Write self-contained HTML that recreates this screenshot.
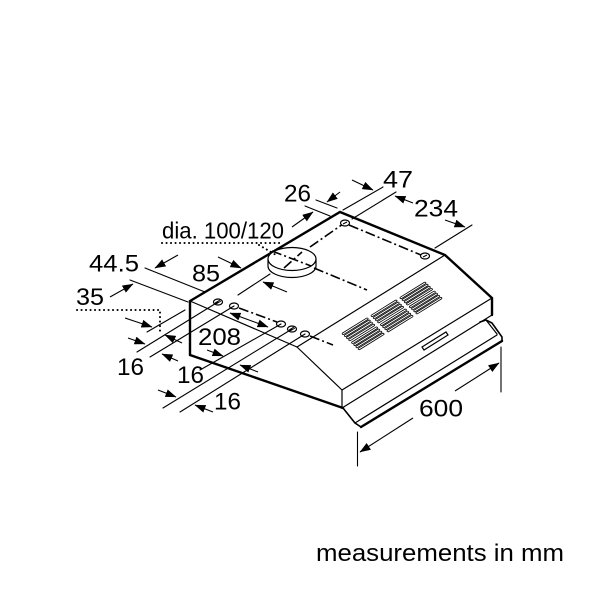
<!DOCTYPE html>
<html><head><meta charset="utf-8"><style>
html,body{margin:0;padding:0;background:#fff;}
svg{display:block;}
text{font-family:"Liberation Sans",Arial,sans-serif;fill:#000;}
</style></head><body>
<svg width="600" height="600" viewBox="0 0 600 600" xmlns="http://www.w3.org/2000/svg">
<defs>
<marker id="ah" markerWidth="11" markerHeight="8" refX="10.5" refY="4" orient="auto" markerUnits="userSpaceOnUse">
<path d="M0,0 L11,4 L0,8 z" fill="#000"/>
</marker>
</defs>
<rect width="600" height="600" fill="#fff"/>

<!-- hood thick silhouette -->
<g fill="none" stroke="#000" stroke-width="2.4" stroke-linejoin="miter" stroke-linecap="round">
<path d="M190,355 L190,301 L340,212 L445,255 L492,298 L492,315"/>
<path d="M190,355 L343,408"/>
<path d="M361,427 L502,341"/>
</g>

<!-- hood thin edges -->
<g fill="none" stroke="#000" stroke-width="1.2" stroke-linecap="round">
<path d="M190,301 L297,347"/>
<path d="M297,347 L445,255"/>
<path d="M297,347 L342,390"/>
<path d="M342,390 L492,298"/>
<path d="M342,408 L492,315"/>
<path d="M342,390 L342,408"/>
<path d="M343,408 L355,423 L361,427" stroke-width="1.6"/>
<path d="M502,341 L502,337 L492,323 L486,320 L480,322" stroke-width="1.6"/>
<path d="M355,423 L497,335"/>
<path d="M486,320 L497,334"/>
<polygon points="422,347 446,332 448,335 424,350"/>
</g>

<!-- vents on slope panel -->
<g transform="matrix(0.85,-0.527,0.723,0.691,297,347)" fill="none" stroke="#000" stroke-width="0.8">
<rect x="42" y="12.5" width="30" height="1.9" rx="0.95" vector-effect="non-scaling-stroke"/>
<rect x="42" y="15.5" width="30" height="1.9" rx="0.95" vector-effect="non-scaling-stroke"/>
<rect x="42" y="18.5" width="30" height="1.9" rx="0.95" vector-effect="non-scaling-stroke"/>
<rect x="42" y="21.5" width="30" height="1.9" rx="0.95" vector-effect="non-scaling-stroke"/>
<rect x="76" y="12.5" width="30" height="1.9" rx="0.95" vector-effect="non-scaling-stroke"/>
<rect x="76" y="15.5" width="30" height="1.9" rx="0.95" vector-effect="non-scaling-stroke"/>
<rect x="76" y="18.5" width="30" height="1.9" rx="0.95" vector-effect="non-scaling-stroke"/>
<rect x="76" y="21.5" width="30" height="1.9" rx="0.95" vector-effect="non-scaling-stroke"/>
<rect x="110" y="12.5" width="30" height="1.9" rx="0.95" vector-effect="non-scaling-stroke"/>
<rect x="110" y="15.5" width="30" height="1.9" rx="0.95" vector-effect="non-scaling-stroke"/>
<rect x="110" y="18.5" width="30" height="1.9" rx="0.95" vector-effect="non-scaling-stroke"/>
<rect x="110" y="21.5" width="30" height="1.9" rx="0.95" vector-effect="non-scaling-stroke"/>
<rect x="42" y="25.5" width="30" height="1.9" rx="0.95" vector-effect="non-scaling-stroke"/>
<rect x="42" y="28.5" width="30" height="1.9" rx="0.95" vector-effect="non-scaling-stroke"/>
<rect x="42" y="31.5" width="30" height="1.9" rx="0.95" vector-effect="non-scaling-stroke"/>
<rect x="42" y="34.5" width="30" height="1.9" rx="0.95" vector-effect="non-scaling-stroke"/>
<rect x="76" y="25.5" width="30" height="1.9" rx="0.95" vector-effect="non-scaling-stroke"/>
<rect x="76" y="28.5" width="30" height="1.9" rx="0.95" vector-effect="non-scaling-stroke"/>
<rect x="76" y="31.5" width="30" height="1.9" rx="0.95" vector-effect="non-scaling-stroke"/>
<rect x="76" y="34.5" width="30" height="1.9" rx="0.95" vector-effect="non-scaling-stroke"/>
<rect x="110" y="25.5" width="30" height="1.9" rx="0.95" vector-effect="non-scaling-stroke"/>
<rect x="110" y="28.5" width="30" height="1.9" rx="0.95" vector-effect="non-scaling-stroke"/>
<rect x="110" y="31.5" width="30" height="1.9" rx="0.95" vector-effect="non-scaling-stroke"/>
<rect x="110" y="34.5" width="30" height="1.9" rx="0.95" vector-effect="non-scaling-stroke"/>
</g>

<!-- duct -->
<g fill="#fff" stroke="#000" stroke-width="1.2">
<path d="M268,259 L268,266 A24,11.5 0 0 0 316,266 L316,259" />
<ellipse cx="292" cy="259" rx="24" ry="11.5"/>
</g>

<!-- dash-dot centerlines -->
<g fill="none" stroke="#000" stroke-width="1.6" stroke-dasharray="10 3 2 3">
<path d="M310,247 L343,224"/>
<path d="M349,225 L421,255"/>
<path d="M314,268 L367,290"/>
<path d="M272,251 L311,266"/>
<path d="M284,268 L302,252"/>
<path d="M239,308 L277,322"/>
<path d="M310,336 L333,345"/>
</g>

<!-- holes -->
<g fill="#fff" stroke="#000" stroke-width="1.2">
<ellipse cx="345" cy="223" rx="4.5" ry="3"/>
<ellipse cx="425" cy="256" rx="4.5" ry="3"/>
<ellipse cx="218" cy="302" rx="4.5" ry="3"/>
<ellipse cx="234" cy="306" rx="4.5" ry="3"/>
<ellipse cx="281" cy="324" rx="4.5" ry="3"/>
<ellipse cx="292" cy="329" rx="4.5" ry="3"/>
<ellipse cx="305" cy="334" rx="4.5" ry="3"/>
</g>
<g stroke="#000" stroke-width="1">
<path d="M215,303 L220,300 M216,304 L221,301"/>
<path d="M289,330 L294,327 M290,331 L295,328"/>
<path d="M343,224 L347,222"/>
<path d="M423,257 L427,255"/>
</g>

<!-- extension / dimension thin lines -->
<g fill="none" stroke="#000" stroke-width="1.1" stroke-linecap="round">
<path d="M316,200 L337,208"/>
<path d="M305,206 L330,216"/>
<path d="M343,210 L383,187"/>
<path d="M352,219 L396,192"/>
<path d="M435,248 L472,225"/>
<path d="M145,268 L205,292"/>
<path d="M130,280 L188,302"/>
<path d="M238,295 L270,274"/>
<path d="M218,302 L137,352"/>
<path d="M234,306 L150,357"/>
<path d="M147,332 L185,310"/>
<path d="M281,324 L200,370"/>
<path d="M292,329 L163,408"/>
<path d="M305,334 L180,412"/>
<path d="M357.5,432 L357.5,466"/>
<path d="M501,347 L501,392"/>
</g>

<!-- dotted leaders -->
<g fill="none" stroke="#000" stroke-width="2" stroke-linecap="round" stroke-dasharray="0.1 4.4">
<path d="M162,243 L282,243"/>
<path d="M259,245 L276,255"/>
<path d="M77,310 L160,310 L160,334"/>
</g>

<!-- arrows -->
<g fill="none" stroke="#000" stroke-width="1.1" marker-end="url(#ah)">
<path d="M340,192 L327,202"/>
<path d="M292,227 L313,212"/>
<path d="M352,180 L373,190"/>
<path d="M413,203 L395,196"/>
<path d="M445,220 L465,227"/>
<path d="M178,255 L155,268"/>
<path d="M110,297 L133,284"/>
<path d="M218,257 L241,268"/>
<path d="M287,292 L263,282"/>
<path d="M125,318 L152,327"/>
<path d="M128,338 L145,344"/>
<path d="M182,343 L165,335"/>
<path d="M178,361 L162,354"/>
<path d="M249,320 L230,313"/>
<path d="M249,320 L268,327"/>
<path d="M207,350 L223,356"/>
<path d="M258,372 L240,365"/>
<path d="M158,390 L176,397"/>
<path d="M213,412 L195,405"/>
<path d="M413,418 L360,452"/>
<path d="M455,391 L499,363"/>
</g>

<!-- labels -->
<g font-size="24">
<text x="162" y="238.5" font-size="23" textLength="122" lengthAdjust="spacingAndGlyphs">dia. 100/120</text>
<text x="284" y="201.5" textLength="27" lengthAdjust="spacingAndGlyphs">26</text>
<text x="383" y="187.5" textLength="30" lengthAdjust="spacingAndGlyphs">47</text>
<text x="414" y="216.5" textLength="44" lengthAdjust="spacingAndGlyphs">234</text>
<text x="89" y="271.5" textLength="50" lengthAdjust="spacingAndGlyphs">44.5</text>
<text x="192" y="281.5" textLength="28" lengthAdjust="spacingAndGlyphs">85</text>
<text x="76" y="305" textLength="28" lengthAdjust="spacingAndGlyphs">35</text>
<text x="117" y="375" textLength="27" lengthAdjust="spacingAndGlyphs">16</text>
<text x="177" y="383" textLength="27" lengthAdjust="spacingAndGlyphs">16</text>
<text x="214" y="409.5" textLength="27" lengthAdjust="spacingAndGlyphs">16</text>
<text x="198" y="345" textLength="43" lengthAdjust="spacingAndGlyphs">208</text>
<text x="419" y="416.5" textLength="44" lengthAdjust="spacingAndGlyphs">600</text>
<text x="316" y="561" textLength="248" lengthAdjust="spacingAndGlyphs">measurements in mm</text>
</g>
</svg>
</body></html>
